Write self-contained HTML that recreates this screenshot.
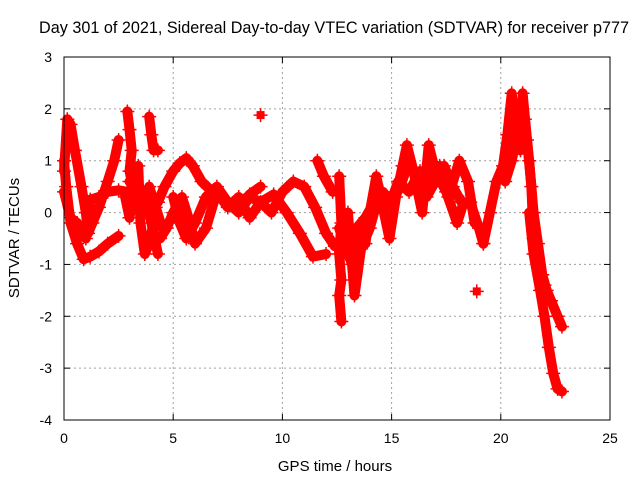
<!DOCTYPE html>
<html><head><meta charset="utf-8"><style>
body{margin:0;background:#fff}
svg{display:block;font-family:"Liberation Sans",sans-serif}
</style></head><body>
<svg id="chart" width="640" height="480">
<text x="334" y="33" text-anchor="middle" font-size="16.2">Day 301 of 2021, Sidereal Day-to-day VTEC variation (SDTVAR) for receiver p777</text>
<text x="335" y="471" text-anchor="middle" font-size="15">GPS time / hours</text>
<text transform="translate(19,238) rotate(-90)" text-anchor="middle" font-size="15">SDTVAR / TECUs</text>
<g id="grid"></g><g id="marks"></g>
<rect x="64" y="57" width="546" height="363" fill="none" stroke="#000" stroke-width="1"/>
</svg>
<script>
const xTicks=[0,5,10,15,20,25];
const yTicks=[3,2,1,0,-1,-2,-3,-4];
const tA=[0.0,0.15,0.3,0.5,0.8,1.0,1.1,1.3,1.6,2.0,2.3,2.5];
const vA=[0.8,1.8,1.7,1.2,0.5,0.0,-0.4,-0.2,0.1,0.6,1.0,1.4];
const tB=[0.0,0.1,0.3,0.6,0.9,1.2,1.6,2.0,2.5];
const vB=[1.0,0.5,-0.2,-0.6,-0.9,-0.85,-0.75,-0.6,-0.45];
const tC=[0.0,0.3,0.6,1.0,1.2,1.6,2.0,2.5,2.9];
const vC=[0.4,-0.1,-0.2,-0.5,0.25,0.3,0.4,0.43,0.4];
const tD=[2.9,3.0,3.1,3.0,3.2,3.4,3.6,3.9,4.1,4.3];
const vD=[1.95,1.6,1.2,0.8,0.4,0.1,0.3,0.0,-0.4,-0.8];
const tE=[2.8,3.0,3.2,3.4,3.5,3.7,3.9,4.1,4.2];
const vE=[0.3,-0.1,0.5,0.9,-0.2,-0.8,-0.6,-0.2,0.2];
const tF=[3.9,4.0,4.1,4.3];
const vF=[1.85,1.5,1.2,1.2];
const tG=[4.3,4.6,5.0,5.3,5.6,5.9,6.3,6.8,7.5,8.0,8.5,9.0];
const vG=[0.2,0.5,0.8,0.95,1.05,0.9,0.6,0.4,0.2,0.1,0.35,0.5];
const tH=[4.4,4.7,5.0,5.4,5.7,6.0,6.5,7.0,7.5,8.0,8.5,9.0,9.5,10.0,10.5,11.0,11.5,12.0,12.4];
const vH=[-0.5,-0.3,0.0,0.3,-0.1,-0.6,-0.3,0.4,0.1,0.3,-0.1,0.2,0.0,0.4,0.6,0.5,0.1,-0.4,-0.65];
const tI=[5.0,5.3,5.6,6.0,6.5,7.0,7.5,8.0,8.5,9.0,9.6,10.2,10.8,11.4,12.0];
const vI=[0.3,-0.2,-0.5,-0.2,0.3,0.5,0.2,0.0,0.3,0.2,0.35,0.0,-0.4,-0.85,-0.8];
const tJ=[11.6,11.9,12.3];
const vJ=[1.0,0.7,0.4];
const tK=[12.6,12.7,12.6,12.7,12.6,12.7];
const vK=[0.7,-0.2,-0.8,-1.3,-1.6,-2.1];
const tL=[12.6,12.9,13.2,13.5,13.8,14.0,14.3,14.6,14.9,15.2,15.5,15.7,16.0,16.4,16.7,17.0,17.5,18.0,18.3,18.6,19.0,19.2];
const vL=[-0.3,-0.7,-1.0,-0.3,-0.6,0.0,0.7,0.1,-0.5,0.3,0.9,1.3,0.8,0.0,1.3,0.8,0.4,-0.2,0.2,0.2,-0.3,-0.6];
const tM=[13.0,13.3,13.6,14.0,14.4,14.8,15.3,15.8,16.3,16.8,17.2,17.6,18.1,18.5,18.8];
const vM=[0.0,-1.6,-0.7,-0.3,0.3,0.0,0.6,0.4,0.8,0.5,0.9,0.3,1.0,0.6,-0.2];
const tN=[19.2,19.5,19.8,20.1,20.3,20.5,20.7,20.9,21.0,21.2,21.4,21.5,21.7,22.0,22.3,22.6,22.8];
const vN=[-0.6,0.0,0.6,0.9,1.5,2.3,1.5,1.2,2.3,1.4,0.5,-0.5,-1.0,-1.4,-1.7,-2.0,-2.2];
const tO=[21.3,21.5,21.8,22.0,22.2,22.4,22.6,22.8];
const vO=[0.0,-0.8,-1.5,-2.0,-2.6,-3.1,-3.4,-3.45];
const tQ=[13.0,13.4,13.8,14.2,14.6,15.0,15.4,15.8,16.2,16.6,17.0,17.4,17.8,18.2];
const vQ=[-0.5,-0.3,-0.1,0.2,0.4,0.2,0.5,1.0,0.6,0.3,0.6,0.9,0.5,0.2];
const tR=[20.2,20.5,20.8,21.1,21.3,21.5,21.7,21.9,22.1];
const vR=[0.6,1.0,1.6,1.8,1.0,0.0,-0.6,-1.2,-1.5];
const tS=[3.0,3.3,3.6,3.9,4.2,4.5];
const vS=[0.6,0.4,0.2,0.5,0.1,-0.3];
const tP=[9.0,18.9];
const vP=[1.88,-1.52];
const tracksT=[tA,tB,tC,tD,tE,tF,tG,tH,tI,tJ,tK,tL,tM,tN,tO,tQ,tR,tS];
const tracksV=[vA,vB,vC,vD,vE,vF,vG,vH,vI,vJ,vK,vL,vM,vN,vO,vQ,vR,vS];
const X0=64,X1=610,Y0=420,Y1=57;
function sx(t){return X0+(t-0)/(25-0)*(X1-X0);}
function sy(v){return Y0-(v-(-4))/(3-(-4))*(Y0-Y1);}
const NS='http://www.w3.org/2000/svg';
const grid=document.getElementById('grid'),marks=document.getElementById('marks');
function mk(tag,attrs,parent){const e=document.createElementNS(NS,tag);for(const k in attrs)e.setAttribute(k,attrs[k]);parent.appendChild(e);return e;}
xTicks.forEach(t=>{const x=sx(t);
 if(t>0&&t<25){const g=mk('line',{x1:x,x2:x,y1:Y1,y2:Y0,stroke:'#a0a0a0','stroke-dasharray':'2,3'},grid);
 
 }
 mk('line',{x1:x,x2:x,y1:Y0,y2:Y0-6,stroke:'#000'},grid);
 mk('line',{x1:x,x2:x,y1:Y1,y2:Y1+6,stroke:'#000'},grid);
 const l=mk('text',{x:x,y:443,'text-anchor':'middle','font-size':14},grid);l.textContent=t;
 
 
});
yTicks.forEach(v=>{const y=sy(v);
 if(v>-4&&v<3){const g=mk('line',{x1:X0,x2:X1,y1:y,y2:y,stroke:'#a0a0a0','stroke-dasharray':'2,3'},grid);
 
 }
 mk('line',{x1:X0,x2:X0+6,y1:y,y2:y,stroke:'#000'},grid);
 mk('line',{x1:X1,x2:X1-6,y1:y,y2:y,stroke:'#000'},grid);
 const l=mk('text',{x:52,y:y+5,'text-anchor':'end','font-size':14},grid);l.textContent=v;
 
 
});
function plus(t,v){const x=sx(t),y=sy(v);
 const p=mk('path',{d:`M${x-7},${y}H${x+7}M${x},${y-7}V${y+7}`,stroke:'#f00','stroke-width':1.5},marks);
 
 }
tracksT.forEach((ts,i)=>{const vs=tracksV[i];
 const pts=ts.map((t,j)=>sx(t)+','+sy(vs[j])).join(' ');
 const pl=mk('polyline',{points:pts,fill:'none',stroke:'#f00','stroke-width':10,'stroke-linejoin':'round','stroke-linecap':'round'},marks);
 
 
 ts.forEach((t,j)=>plus(t,vs[j]));
});
tP.forEach((t,j)=>{const x=sx(t),y=sy(vP[j]);
 const c=mk('rect',{x:x-4,y:y-4,width:8,height:8,fill:'#f00'},marks);
 
 
 plus(t,vP[j]);});
</script>
</body></html>
